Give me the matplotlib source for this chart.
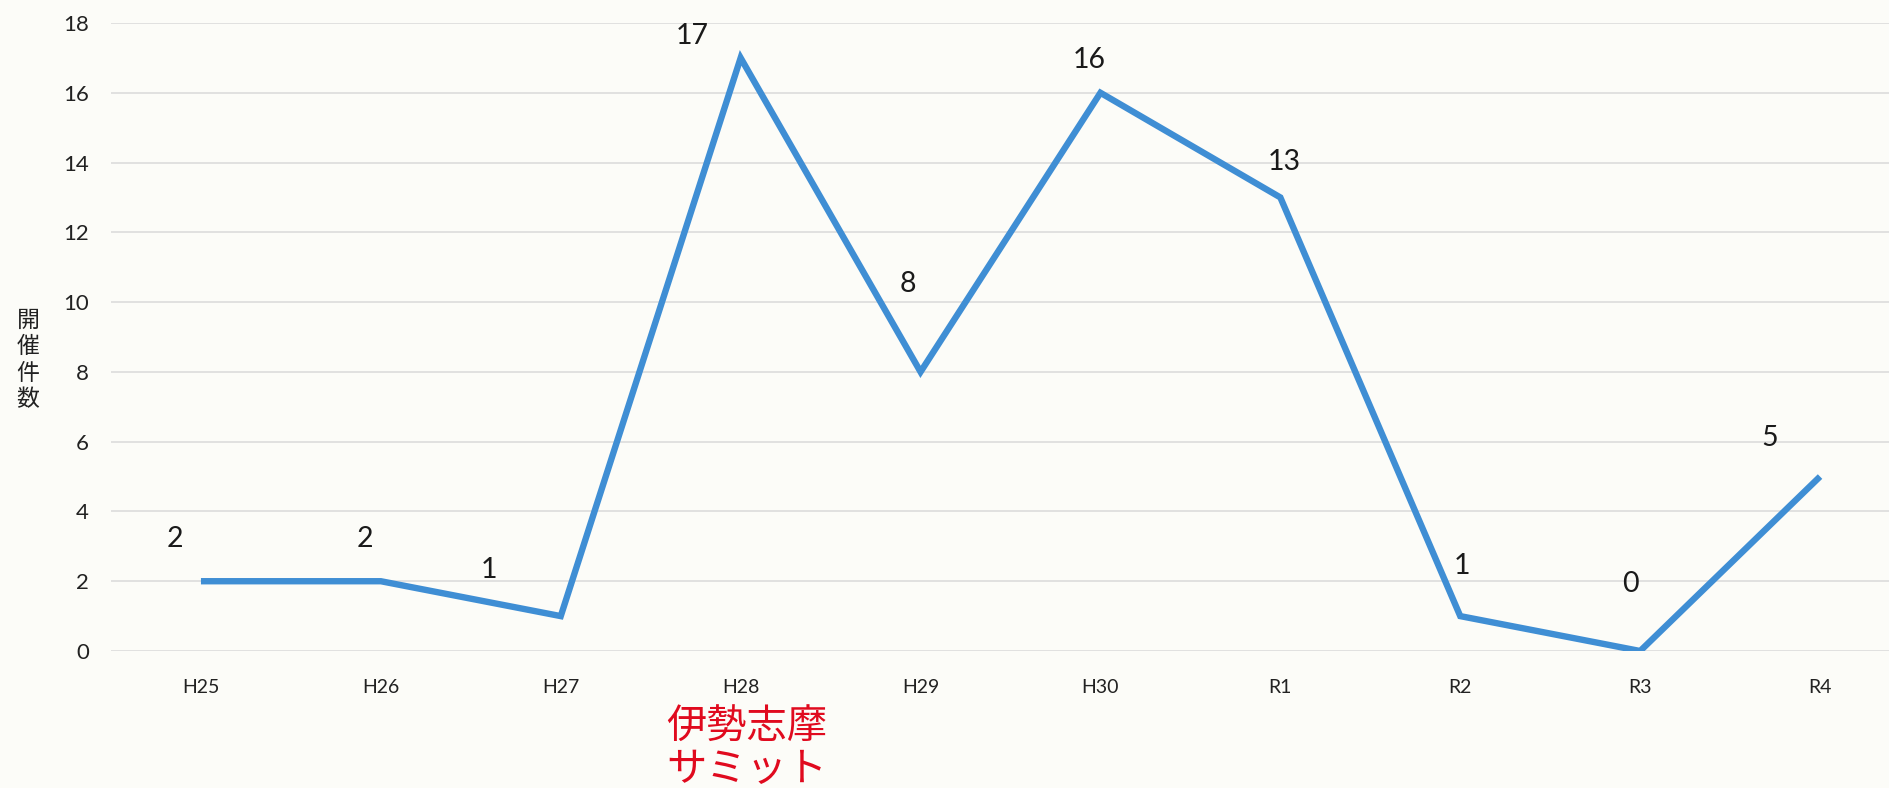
import matplotlib
matplotlib.use("Agg")
import matplotlib.pyplot as plt

# ---- data ----
categories = ["H25", "H26", "H27", "H28", "H29", "H30", "R1", "R2", "R3", "R4"]
counts = [2, 2, 1, 17, 8, 16, 13, 1, 0, 5]
y_ticks = [0, 2, 4, 6, 8, 10, 12, 14, 16, 18]
y_label = "開\n催\n件\n数"
note_text = "伊勢志摩\nサミット"
note_category = "H28"

# ---- style: label offsets (pixels, relative to the points) ----
label_offsets = [(-26, 42), (-16, 42), (-72, 46), (-48, 22), (-13, 88),
                 (-11, 33), (4, 35), (2, 50), (-10, 67), (-50, 39)]

W, H = 1889, 788
fig = plt.figure(figsize=(W / 100, H / 100), dpi=100)
bg = "#fcfcf8"
fig.patch.set_facecolor(bg)

left_px, right_px, top_px, bottom_px = 111, 1910, 23, 651
ax = fig.add_axes([left_px / W, 1 - bottom_px / H,
                   (right_px - left_px) / W, (bottom_px - top_px) / H])
ax.set_facecolor(bg)

x = list(range(len(categories)))
ax.plot(x, counts, color="#3f8ed4", lw=4.6, solid_joinstyle="miter",
        solid_capstyle="butt", zorder=3)

ax.set_xlim(-0.5, len(categories) - 0.5)
ax.set_ylim(0, 18)
ax.set_yticks(y_ticks)
ax.set_xticks(x)
ax.set_xticklabels(categories, fontsize=14, family="Lato", color="#222222")
ax.set_yticklabels([str(v) for v in y_ticks], fontsize=16, family="Lato",
                   color="#222222")
ax.tick_params(axis="both", length=0)
ax.tick_params(axis="x", pad=20)
ax.tick_params(axis="y", pad=16)
ax.grid(axis="y", color="#dcdcdc", lw=1.2, zorder=1)
for s in ax.spines.values():
    s.set_visible(False)

for xi, v, (dx, dy) in zip(x, counts, label_offsets):
    ax.annotate(str(v), (xi, v), xytext=(dx, dy), textcoords="offset pixels",
                ha="center", va="center", fontsize=20.5, family="Lato",
                color="#1a1a1a", zorder=4)

fig.text(28 / W, 1 - 360 / H, y_label, ha="center", va="center",
         fontsize=16.5, family=["Noto Sans CJK JP", "DejaVu Sans"],
         color="#222222", linespacing=1.2)

ni = categories.index(note_category)
ax.annotate(note_text, (ni, 0), xytext=(6, -97), textcoords="offset pixels",
            ha="center", va="center", fontsize=29,
            family=["Noto Sans CJK JP", "DejaVu Sans"], color="#e00a1e",
            linespacing=1.08, annotation_clip=False)

fig.savefig("out.png", dpi=100, facecolor=bg)
